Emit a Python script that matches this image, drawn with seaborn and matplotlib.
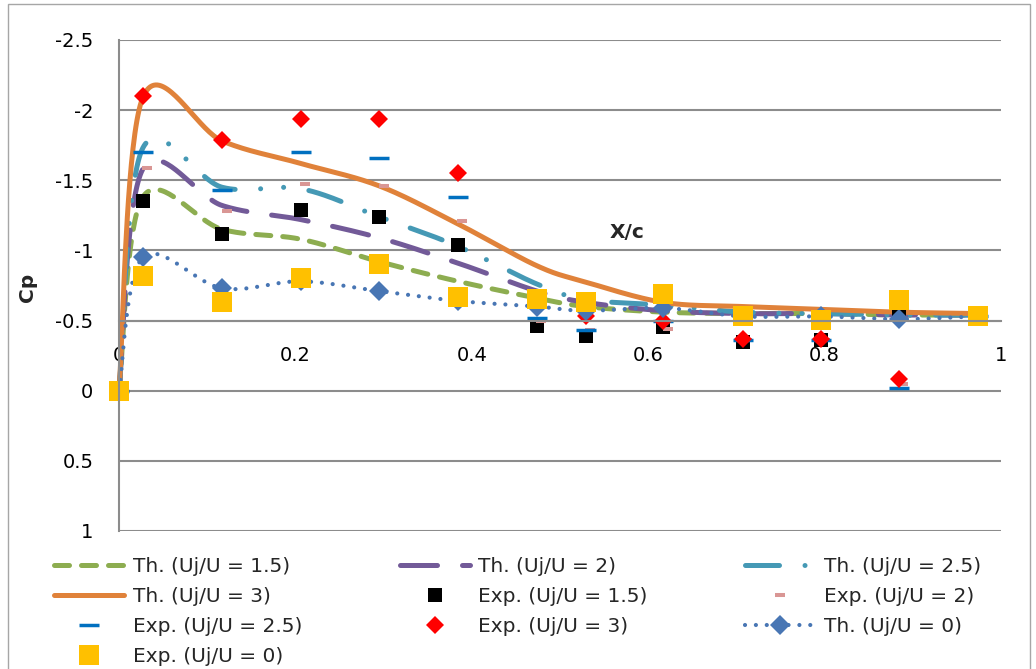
import numpy as np
import pandas as pd
import matplotlib
matplotlib.use("Agg")
import matplotlib.pyplot as plt
from matplotlib.lines import Line2D
from matplotlib.patches import Rectangle
import seaborn as sns

# ---------------- data ----------------
x_pos = [0.0, 0.027, 0.117, 0.206, 0.295, 0.384, 0.474, 0.529, 0.617, 0.707, 0.796, 0.884, 0.974]
x_exp2 = [0.005, 0.032, 0.122, 0.211, 0.300, 0.389, 0.479, 0.534, 0.622, 0.712, 0.801, 0.889, 0.979]

th_15 = [0.0, -1.38, -1.15, -1.08, -0.92, -0.78, -0.66, -0.60, -0.56, -0.55, -0.55, -0.54, -0.54]
th_2 = [0.0, -1.58, -1.32, -1.22, -1.09, -0.91, -0.71, -0.63, -0.57, -0.55, -0.55, -0.54, -0.54]
th_25 = [0.0, -1.73, -1.45, -1.44, -1.24, -1.03, -0.76, -0.65, -0.61, -0.56, -0.55, -0.54, -0.54]
th_3 = [0.0, -2.09, -1.78, -1.62, -1.46, -1.19, -0.89, -0.775, -0.63, -0.60, -0.58, -0.56, -0.55]
th_0 = [0.0, -0.95, -0.73, -0.78, -0.71, -0.64, -0.60, -0.57, -0.59, -0.53, -0.53, -0.51, -0.53]

exp_15 = [0.0, -1.35, -1.12, -1.29, -1.24, -1.04, -0.46, -0.39, -0.455, -0.35, -0.36, -0.56, -0.53]
exp_2 = [0.0, -1.59, -1.28, -1.47, -1.46, -1.21, -0.50, -0.43, -0.44, -0.36, -0.36, -0.05, -0.53]
exp_25 = [0.0, -1.70, -1.43, -1.70, -1.66, -1.38, -0.52, -0.43, -0.50, -0.36, -0.36, -0.02, -0.53]
exp_3 = [0.0, -2.10, -1.79, -1.94, -1.94, -1.55, -0.65, -0.53, -0.50, -0.37, -0.37, -0.08, -0.53]
exp_0 = [0.0, -0.82, -0.63, -0.80, -0.90, -0.67, -0.655, -0.63, -0.69, -0.53, -0.505, -0.65, -0.53]

y_ticks = [-2.5, -2.0, -1.5, -1.0, -0.5, 0.0, 0.5, 1.0]
y_tick_labels = ["-2.5", "-2", "-1.5", "-1", "-0.5", "0", "0.5", "1"]
x_ticks = [0.0, 0.2, 0.4, 0.6, 0.8, 1.0]
x_tick_labels = ["0", "0.2", "0.4", "0.6", "0.8", "1"]

labels = ["Th. (Uj/U = 1.5)", "Th. (Uj/U = 2)", "Th. (Uj/U = 2.5)", "Th. (Uj/U = 3)",
          "Exp. (Uj/U = 1.5)", "Exp. (Uj/U = 2)", "Exp. (Uj/U = 2.5)", "Exp. (Uj/U = 3)",
          "Th. (Uj/U = 0)", "Exp. (Uj/U = 0)"]

# ---------------- style ----------------
sns.set_style("white")
plt.rcParams["font.family"] = ["DejaVu Sans"]
plt.rcParams["axes.unicode_minus"] = False

C_GREEN = "#8DAD50"
C_PURPLE = "#725A98"
C_TEAL = "#4599B5"
C_ORANGE = "#E0823A"
C_BLUE0 = "#4876B4"
C_RED = "#FF0000"
C_DASHBLUE = "#0070C0"
C_PINK = "#D99694"
C_YELLOW = "#FFC000"
C_GRID = "#8C8C8C"

W, H = 1036, 669
fig = plt.figure(figsize=(W / 100, H / 100), dpi=100)
ax = fig.add_axes([119 / W, 1 - 531 / H, (1001 - 119) / W, (531 - 40) / H])


def excel_smooth(xs, ys, n=40):
    """Excel-style smoothed line (Bezier segments, Catmull-Rom control points)."""
    p = np.column_stack([xs, ys]).astype(float)
    out = []
    t = np.linspace(0, 1, n)[:, None]
    for i in range(len(p) - 1):
        p0 = p[i - 1] if i > 0 else p[i]
        p1, p2 = p[i], p[i + 1]
        p3 = p[i + 2] if i + 2 < len(p) else p[i + 1]
        c1 = p1 + (p2 - p0) / 6.0
        c2 = p2 - (p3 - p1) / 6.0
        seg = ((1 - t) ** 3) * p1 + 3 * ((1 - t) ** 2) * t * c1 + 3 * (1 - t) * t ** 2 * c2 + t ** 3 * p2
        out.append(seg if i == 0 else seg[1:])
    s = np.vstack(out)
    return pd.DataFrame({"x": s[:, 0], "y": s[:, 1]})


LW = 3.6
LW0 = 3.0
ls_green = (0, (3.0, 2.4))
ls_purple = (0, (7.4, 5.0))
ls_teal = (0, (6.8, 5.1, 0.01, 4.6, 0.01, 5.1))
ls_dot = (0, (0.01, 2.6))

theory = [
    (th_15, C_GREEN, ls_green, LW),
    (th_2, C_PURPLE, ls_purple, LW),
    (th_25, C_TEAL, ls_teal, LW),
    (th_3, C_ORANGE, "-", LW),
]
for vals, col, ls, lw in theory:
    d = excel_smooth(x_pos, vals)
    sns.lineplot(data=d, x="x", y="y", sort=False, estimator=None, ax=ax, color=col,
                 linestyle=ls, linewidth=lw, dash_capstyle="round", solid_capstyle="round",
                 clip_on=False)

exp_specs = [
    (x_pos, exp_15, "s", 10.5, "#000000", 0.0),
    (x_exp2, exp_2, "_", 7.2, C_PINK, 2.9),
    (x_pos, exp_25, "_", 13.7, C_DASHBLUE, 2.5),
    (x_pos, exp_3, "D", 8.7, C_RED, 0.0),
]
for xs, ys, mk, ms, col, mew in exp_specs:
    d = pd.DataFrame({"x": xs, "y": ys})
    sns.lineplot(data=d, x="x", y="y", sort=False, estimator=None, ax=ax, color=col,
                 linestyle="", marker=mk, markersize=ms, markeredgewidth=mew,
                 markeredgecolor=col, markerfacecolor=col, clip_on=False)

# theory Uj/U = 0: dotted smoothed line + diamond markers
d0 = excel_smooth(x_pos, th_0)
sns.lineplot(data=d0, x="x", y="y", sort=False, estimator=None, ax=ax, color=C_BLUE0,
             linestyle=ls_dot, linewidth=LW0, dash_capstyle="round", clip_on=False)
sns.lineplot(data=pd.DataFrame({"x": x_pos, "y": th_0}), x="x", y="y", sort=False,
             estimator=None, ax=ax, color=C_BLUE0, linestyle="", marker="D",
             markersize=10.2, markeredgewidth=0, clip_on=False)

# experiment Uj/U = 0
sns.lineplot(data=pd.DataFrame({"x": x_pos, "y": exp_0}), x="x", y="y", sort=False,
             estimator=None, ax=ax, color=C_YELLOW, linestyle="", marker="s",
             markersize=13.7, markeredgewidth=0, clip_on=False)

# ---------------- axes ----------------
ax.set_xlim(0, 1)
ax.set_ylim(1, -2.5)
ax.set_yticks(y_ticks)
ax.set_yticklabels(y_tick_labels)
ax.set_xticks(x_ticks)
ax.set_xticklabels(x_tick_labels)
ax.set_xlabel("")
ax.set_ylabel("")
ax.grid(False)
ax.yaxis.grid(True, color=C_GRID, linewidth=1.5)
ax.set_axisbelow(True)
for s in ["top", "right"]:
    ax.spines[s].set_visible(False)
ax.spines["left"].set_color(C_GRID)
ax.spines["left"].set_linewidth(1.5)
ax.spines["bottom"].set_position(("data", -0.5))
ax.spines["bottom"].set_color(C_GRID)
ax.spines["bottom"].set_linewidth(1.5)
ax.tick_params(axis="y", length=0, pad=18.5, labelsize=14, colors="black")
ax.tick_params(axis="x", length=0, pad=18.0, labelsize=14, colors="black")

fig.text(28 / W, 1 - 287 / H, "Cp", rotation=90, fontsize=14.5, fontweight="bold",
         ha="center", va="center")
fig.text(627 / W, 1 - 232 / H, "X/c", fontsize=14.5, fontweight="bold",
         ha="center", va="center")

# ---------------- legend ----------------
h = {
    0: Line2D([], [], color=C_GREEN, linestyle=ls_green, linewidth=LW, dash_capstyle="round"),
    1: Line2D([], [], color=C_PURPLE, linestyle=ls_purple, linewidth=LW, dash_capstyle="round"),
    2: Line2D([], [], color=C_TEAL, linestyle=ls_teal, linewidth=LW, dash_capstyle="round"),
    3: Line2D([], [], color=C_ORANGE, linestyle="-", linewidth=LW, solid_capstyle="round"),
    4: Line2D([], [], color="#000000", linestyle="", marker="s", markersize=10.5, markeredgewidth=0),
    5: Line2D([], [], color=C_PINK, linestyle="", marker="_", markersize=7.2, markeredgewidth=2.9),
    6: Line2D([], [], color=C_DASHBLUE, linestyle="", marker="_", markersize=13.7, markeredgewidth=2.5),
    7: Line2D([], [], color=C_RED, linestyle="", marker="D", markersize=8.7, markeredgewidth=0),
    8: Line2D([], [], color=C_BLUE0, linestyle=ls_dot, linewidth=LW0, dash_capstyle="round",
              marker="D", markersize=10.2, markeredgewidth=0),
    9: Line2D([], [], color=C_YELLOW, linestyle="", marker="s", markersize=13.7, markeredgewidth=0),
}
order = [0, 3, 6, 9, 1, 4, 7, 2, 5, 8]
leg = fig.legend([h[i] for i in order], [labels[i] for i in order], ncol=3,
                 loc="upper left", bbox_to_anchor=(54 / W, 1 - 557 / H),
                 frameon=False, fontsize=14.5, handlelength=3.5, handletextpad=0.4,
                 columnspacing=4.85, labelspacing=0.54, borderpad=0, borderaxespad=0,
                 numpoints=1)

# chart border
fig.patches.append(Rectangle((8 / W, -0.01), (1030 - 8) / W, 1.01 - 4 / H,
                             transform=fig.transFigure, fill=False,
                             edgecolor="#A6A6A6", linewidth=1.0))

fig.savefig("out.png", dpi=100)
